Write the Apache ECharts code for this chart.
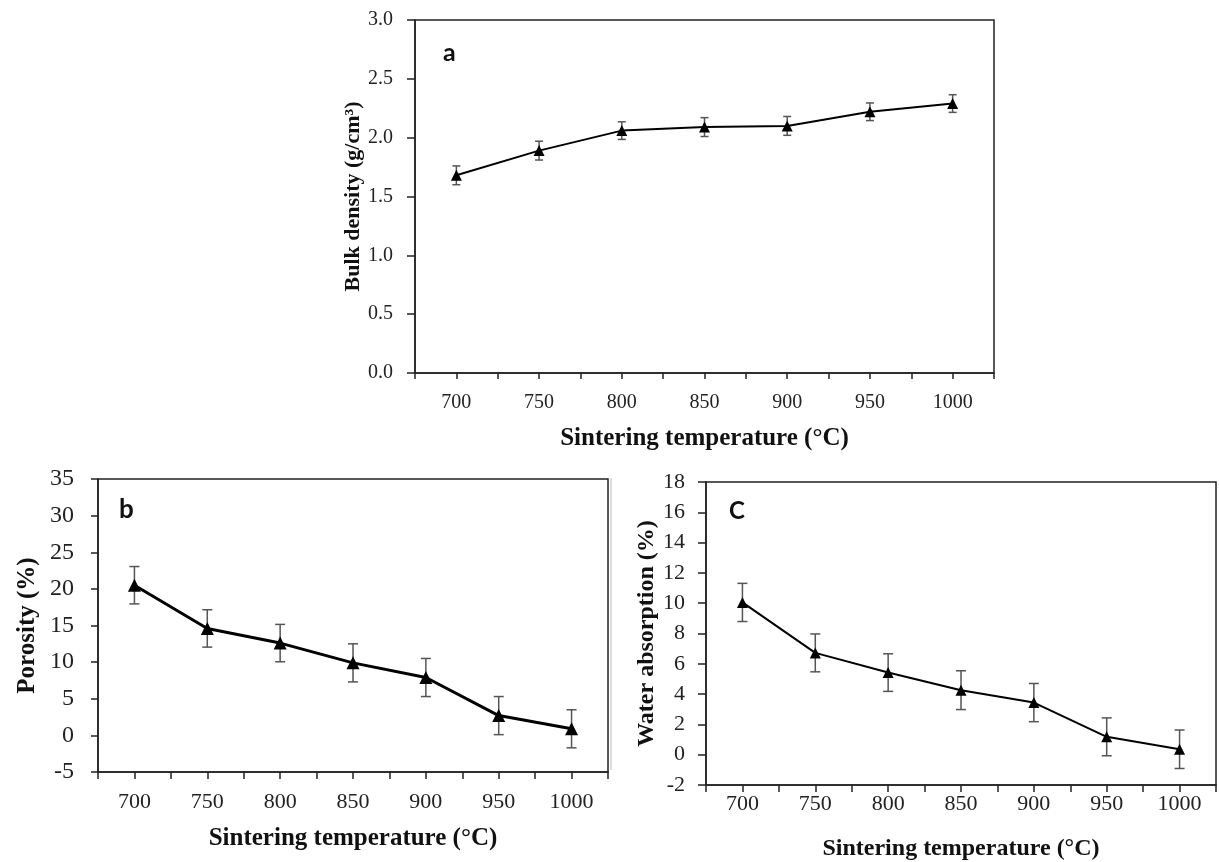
<!DOCTYPE html>
<html>
<head>
<meta charset="utf-8">
<script src="https://cdn.jsdelivr.net/npm/echarts@6/dist/echarts.min.js"></script>
<style>html,body{margin:0;padding:0;background:#fff;}#main{width:1219px;height:862px;}</style>
</head>
<body>
<div id="main"></div>
<script>
// ---- data ----
const temps = [700, 750, 800, 850, 900, 950, 1000];
const bulkDensity = [1.68, 1.89, 2.06, 2.09, 2.10, 2.22, 2.29];
const bulkDensityErr = [0.08, 0.08, 0.075, 0.08, 0.08, 0.075, 0.075];
const porosity = [20.5, 14.6, 12.6, 9.9, 7.9, 2.7, 0.9];
const porosityErr = [2.55, 2.55, 2.55, 2.6, 2.6, 2.6, 2.6];
const waterAbs = [10.05, 6.72, 5.42, 4.26, 3.44, 1.18, 0.36];
const waterAbsErr = [1.26, 1.25, 1.24, 1.28, 1.26, 1.25, 1.27];
const xTitle = 'Sintering temperature (°C)';
const xTitleB = 'Sintering temperature (°C)';
const yTitles = ['Bulk density (g/cm³)', 'Porosity (%)', 'Water absorption (%)'];
const panelLabels = ['a', 'b', 'C'];

const SERIF = '"Liberation Serif", "Times New Roman", serif';
const SANS = 'Lato, "Liberation Sans", sans-serif';

function xAxisCfg(gridIndex, fs, margin, name, nameFs, nameGap, tickLen) {
  return {
    type: 'value', gridIndex, min: 675, max: 1025, interval: 25,
    name, nameLocation: 'middle', nameGap,
    nameTextStyle: { fontFamily: SERIF, fontWeight: 'bold', fontSize: nameFs, color: '#111' },
    axisLine: { show: true, onZero: false, lineStyle: { color: '#222', width: 1.5 } },
    axisTick: { show: true, inside: false, length: tickLen, lineStyle: { color: '#222', width: 1.5 } },
    splitLine: { show: false },
    axisLabel: {
      fontFamily: SERIF, fontSize: fs, color: '#222', margin,
      formatter: v => (v % 50 === 0 ? String(v) : '')
    }
  };
}
function yAxisCfg(gridIndex, min, max, interval, fs, margin, name, nameFs, nameGap, decimals, tickLen) {
  return {
    type: 'value', gridIndex, min, max, interval,
    name, nameLocation: 'middle', nameGap,
    nameTextStyle: { fontFamily: SERIF, fontWeight: 'bold', fontSize: nameFs, color: '#111' },
    axisLine: { show: true, onZero: false, lineStyle: { color: '#222', width: 1.5 } },
    axisTick: { show: true, inside: false, length: tickLen, lineStyle: { color: '#222', width: 1.5 } },
    splitLine: { show: false },
    axisLabel: {
      fontFamily: SERIF, fontSize: fs, color: '#222', margin,
      formatter: v => v.toFixed(decimals)
    }
  };
}
function lineSeries(idx, vals, width, size) {
  return {
    type: 'line', xAxisIndex: idx, yAxisIndex: idx,
    data: temps.map((t, i) => [t, vals[i]]),
    symbol: 'triangle', symbolSize: size,
    itemStyle: { color: '#000' },
    lineStyle: { color: '#000', width },
    z: 3, animation: false
  };
}
function errSeries(idx, vals, errs, capHalf) {
  return {
    type: 'custom', xAxisIndex: idx, yAxisIndex: idx,
    data: temps.map((t, i) => [t, vals[i], errs[i]]),
    renderItem: (params, api) => {
      const x = api.value(0), y = api.value(1), e = api.value(2);
      const top = api.coord([x, y + e]);
      const bot = api.coord([x, y - e]);
      const st = { stroke: '#555', lineWidth: 1.5 };
      return {
        type: 'group',
        children: [
          { type: 'line', shape: { x1: top[0], y1: top[1], x2: bot[0], y2: bot[1] }, style: st },
          { type: 'line', shape: { x1: top[0] - capHalf, y1: top[1], x2: top[0] + capHalf, y2: top[1] }, style: st },
          { type: 'line', shape: { x1: bot[0] - capHalf, y1: bot[1], x2: bot[0] + capHalf, y2: bot[1] }, style: st }
        ]
      };
    },
    z: 2, animation: false
  };
}

const chart = echarts.init(document.getElementById('main'), null, { renderer: 'canvas' });
const gridStyle = { show: true, borderColor: '#222', borderWidth: 1.5, backgroundColor: 'transparent' };
chart.setOption({
  animation: false,
  backgroundColor: '#fff',
  grid: [
    Object.assign({ left: 415, top: 20, width: 579, height: 353 }, gridStyle),
    Object.assign({ left: 98, top: 479, width: 510, height: 293 }, gridStyle),
    Object.assign({ left: 706, top: 482, width: 516, height: 307 }, gridStyle)
  ],
  xAxis: [
    xAxisCfg(0, 20, 20, xTitle, 25, 53, 6),
    xAxisCfg(1, 22, 19, xTitleB, 25, 54, 7),
    xAxisCfg(2, 22, 8, xTitle, 24, 52, 7)
  ],
  yAxis: [
    yAxisCfg(0, 0, 3, 0.5, 20, 22, yTitles[0], 22, 44, 1, 8),
    yAxisCfg(1, -5, 35, 5, 24, 24, yTitles[1], 25, 58, 0, 7),
    yAxisCfg(2, -2, 18, 2, 22, 21, yTitles[2], 24, 46, 0, 8)
  ],
  series: [
    errSeries(0, bulkDensity, bulkDensityErr, 4),
    lineSeries(0, bulkDensity, 2, 11),
    errSeries(1, porosity, porosityErr, 5),
    lineSeries(1, porosity, 3, 13),
    errSeries(2, waterAbs, waterAbsErr, 5),
    lineSeries(2, waterAbs, 2, 11)
  ],
  graphic: [
    { type: 'text', left: 443, top: 40, style: { text: panelLabels[0], font: 'bold 25px ' + SANS, fill: '#111' } },
    { type: 'text', left: 119, top: 497, style: { text: panelLabels[1], font: 'bold 26px ' + SANS, fill: '#111' } },
    { type: 'text', left: 729, top: 499, style: { text: panelLabels[2], font: 'bold 24px ' + SANS, fill: '#111' } },
    { type: 'line', shape: { x1: 611, y1: 478, x2: 611, y2: 770 }, style: { stroke: '#bbb', lineWidth: 1 } }
  ]
});
</script>
</body>
</html>
